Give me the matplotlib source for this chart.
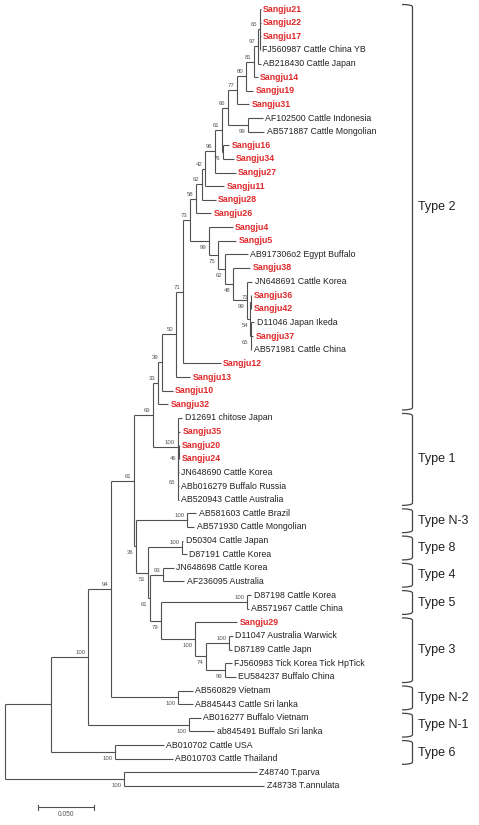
import matplotlib
matplotlib.use("Agg")
import matplotlib.pyplot as plt
from matplotlib.path import Path
from matplotlib.patches import PathPatch

# ---------------- data ----------------
leaf_names = [
    "Sangju21", "Sangju22", "Sangju17", "FJ560987 Cattle China YB", "AB218430 Cattle Japan",
    "Sangju14", "Sangju19", "Sangju31", "AF102500 Cattle Indonesia", "AB571887 Cattle Mongolian",
    "Sangju16", "Sangju34", "Sangju27", "Sangju11", "Sangju28", "Sangju26", "Sangju4", "Sangju5",
    "AB917306o2 Egypt Buffalo", "Sangju38", "JN648691 Cattle Korea", "Sangju36", "Sangju42",
    "D11046 Japan Ikeda", "Sangju37", "AB571981 Cattle China", "Sangju12", "Sangju13", "Sangju10",
    "Sangju32", "D12691 chitose Japan", "Sangju35", "Sangju20", "Sangju24", "JN648690 Cattle Korea",
    "ABb016279 Buffalo Russia", "AB520943 Cattle Australia", "AB581603 Cattle Brazil",
    "AB571930 Cattle Mongolian", "D50304 Cattle Japan", "D87191 Cattle Korea", "JN648698 Cattle Korea",
    "AF236095 Australia", "D87198 Cattle Korea", "AB571967 Cattle China", "Sangju29",
    "D11047 Australia Warwick", "D87189 Cattle Japn", "FJ560983 Tick Korea Tick HpTick",
    "EU584237 Buffalo China", "AB560829 Vietnam", "AB845443 Cattle Sri lanka", "AB016277 Buffalo Vietnam",
    "ab845491 Buffalo Sri lanka", "AB010702 Cattle USA", "AB010703 Cattle Thailand",
    "Z48740 T.parva", "Z48738 T.annulata",
]
# distance of each tip from the root (substitutions/site)
leaf_depth = [
    0.2286, 0.2286, 0.2286, 0.2281, 0.2286, 0.2259, 0.2223, 0.2183, 0.2304, 0.2317,
    0.2004, 0.2045, 0.2063, 0.1964, 0.1884, 0.1848, 0.2036, 0.2071, 0.2174, 0.2196,
    0.2214, 0.2205, 0.2205, 0.2228, 0.2223, 0.2205, 0.1929, 0.1656, 0.1500, 0.1464,
    0.1589, 0.1567, 0.1558, 0.1558, 0.1554, 0.1554, 0.1554, 0.1714, 0.1692, 0.1598,
    0.1625, 0.1509, 0.1607, 0.2205, 0.2179, 0.2080, 0.2036, 0.2027, 0.2031, 0.2063,
    0.1679, 0.1679, 0.1750, 0.1871, 0.1420, 0.1504, 0.2250, 0.2317,
]

# internal nodes (children: int = leaf index, str = node name), defined bottom-up
node_names = [
    "n65a", "n97", "n81a", "n80", "n77", "n99a", "n66", "n76", "n61a", "n96", "n42", "n62a", "n58",
    "n71a", "n65b", "n54", "n99c", "n48", "n62b", "n75", "n99b", "n73", "n71b", "n50", "n39", "n33",
    "n46", "n65c", "n100b", "n69", "n100c", "n100d", "n93", "n100e", "n100f", "n99d", "n74", "n100g",
    "n79", "n61c", "n51", "n36", "n61b", "n100h", "n94", "n100i", "n100m", "n100k", "nX", "n100j", "root",
]
node_depth = [
    0.2277, 0.2259, 0.2228, 0.2156, 0.2076, 0.2174, 0.1996, 0.1951, 0.1942, 0.1879, 0.1790, 0.1763, 0.1710,
    0.2201, 0.2201, 0.2196, 0.2163, 0.2038, 0.1969, 0.1906, 0.1826, 0.1656, 0.1594, 0.1531, 0.1402, 0.1371,
    0.1556, 0.1551, 0.1545, 0.1326, 0.1627, 0.1582, 0.1413, 0.2163, 0.2004, 0.1969, 0.1799, 0.1701,
    0.1395, 0.1295, 0.1277, 0.1174, 0.1156, 0.1549, 0.0951, 0.1647, 0.0746, 0.0987, 0.0413, 0.1067, 0.0,
]
node_children = [
    [0, 1, 2, 3], ["n65a", 4], ["n97", 5], ["n81a", 6], ["n80", 7], [8, 9], ["n77", "n99a"], [10, 11],
    ["n66", "n76"], ["n61a", 12], ["n96", 13], ["n42", 14], ["n62a", 15],
    [21, 22], [23, 24, 25], ["n71a", "n65b"], [20, "n54"], [19, "n99c"], [18, "n48"], [17, "n62b"],
    [16, "n75"], ["n58", "n99b"], ["n73", 26], ["n71b", 27], ["n50", 28], ["n39", 29],
    [32, 33], ["n46", 34, 35, 36], [30, 31, "n65c"], ["n33", "n100b"], [37, 38], [39, 40], [41, 42],
    [43, 44], [46, 47], [48, 49], ["n100f", "n99d"], [45, "n74"], ["n100e", "n100g"], ["n93", "n79"],
    ["n100d", "n61c"], ["n100c", "n51"], ["n69", "n36"], [50, 51], ["n61b", "n100h"], [52, 53],
    ["n94", "n100i"], [54, 55], ["n100m", "n100k"], [56, 57], ["nX", "n100j"],
]
node_support = [
    65, 97, 81, 80, 77, 99, 66, 76, 61, 96, 42, 62, 58,
    71, 65, 54, 99, 48, 62, 75, 99, 73, 71, 50, 39, 33,
    46, 65, 100, 69, 100, 100, 93, 100, 100, 99, 74, 100,
    79, 61, 51, 36, 61, 100, 94, 100, 100, 100, None, 100, None,
]

type_names = ["Type 2", "Type 1", "Type N-3", "Type 8", "Type 4", "Type 5",
              "Type 3", "Type N-2", "Type N-1", "Type 6"]
type_first = [0, 30, 37, 39, 41, 43, 45, 50, 52, 54]
type_last = [29, 36, 38, 40, 42, 44, 49, 51, 53, 55]

scale_length = 0.05

# ---------------- style ----------------
below_labels = {"n99a", "n76", "n65b", "n54", "n99c", "n48", "n62b", "n75", "n99b", "n46", "n65c",
                "n99d", "n74", "n100g", "n79", "n61c", "n51", "n36", "n100h", "n100i", "n100k", "n100j"}
plt.rcParams['font.family'] = ['Liberation Sans', 'DejaVu Sans']
LINE = '#505050'
RED = '#e0282a'
LW = 0.8

W, H = 479, 825
fig = plt.figure(figsize=(W / 100, H / 100), dpi=100)
ax = fig.add_axes([0, 0, 1, 1])
ax.axis('off')

K = scale_length / 56.0      # depth units per pixel
X0, Y0, DY = 4.5, 9.0, 13.63  # root pixel x, first tip pixel y, tip spacing
ax.set_xlim(-X0 * K, (W - X0) * K)
ax.set_ylim((H - Y0) / DY, -Y0 / DY)


def px(p):
    return p * K


def pv(p):
    return p / DY


pos = {}
for i, d in enumerate(leaf_depth):
    pos[i] = (d, float(i))

for name, d, ch, sup in zip(node_names, node_depth, node_children, node_support):
    ys = [pos[c][1] for c in ch]
    y = (ys[0] + ys[-1]) / 2
    pos[name] = (d, y)
    ax.plot([d, d], [ys[0], ys[-1]], color=LINE, lw=LW, solid_capstyle='butt')
    for c in ch:
        cx, cy = pos[c]
        ax.plot([d, cx], [cy, cy], color=LINE, lw=LW, solid_capstyle='butt')
    if sup is not None:
        ly = y + pv(6.5) if name in below_labels else y - pv(4.5)
        ax.text(d - px(2.5), ly, str(sup), ha='right', va='center', fontsize=4.3, color='#555555')

for i, (n, d) in enumerate(zip(leaf_names, leaf_depth)):
    red = n.startswith("Sangju")
    ax.text(d + px(2.5), i, n, ha='left', va='center', fontsize=6.3,
            color=RED if red else '#222222', fontweight='bold' if red else 'normal')

# type brackets
xb = px(412.5 - X0)
xh = px(402 - X0)
for nm, a, b in zip(type_names, type_first, type_last):
    top = a - 0.33
    bot = b + 0.42
    r = pv(2.5)
    verts = [(xh, top), (xb, top), (xb, top + r), (xb, bot - r), (xb, bot), (xh, bot)]
    codes = [Path.MOVETO, Path.CURVE3, Path.CURVE3, Path.LINETO, Path.CURVE3, Path.CURVE3]
    ax.add_patch(PathPatch(Path(verts, codes), fill=False, edgecolor='#444444', lw=0.9))
    ax.text(px(418 - X0), (a + b) / 2 + 0.05, nm, ha='left', va='center', fontsize=9, color='#222222')

# scale bar
sx0 = px(38 - X0)
sy = pv(807 - Y0)
ax.plot([sx0, sx0 + scale_length], [sy, sy], color=LINE, lw=LW)
for xx in (sx0, sx0 + scale_length):
    ax.plot([xx, xx], [sy - pv(2.5), sy + pv(2.5)], color=LINE, lw=LW)
ax.text(sx0 + scale_length / 2, pv(814 - Y0), f"{scale_length:.3f}", ha='center', va='center',
        fontsize=4.8, color='#555555')

fig.savefig("out.png", dpi=100)
